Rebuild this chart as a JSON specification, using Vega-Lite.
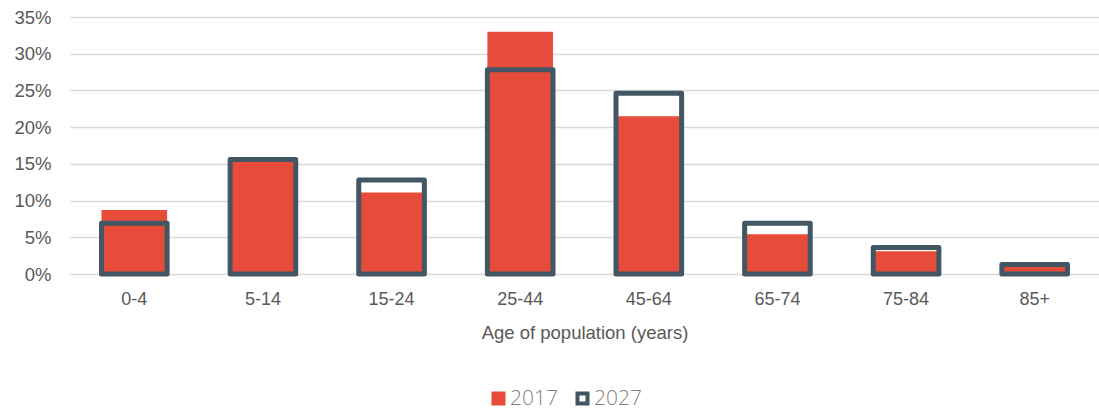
{
  "$schema": "https://vega.github.io/schema/vega-lite/v6.json",
  "width": 1029,
  "height": 257,
  "autosize": {"type": "none"},
  "padding": {"left": 70, "top": 17, "right": 0, "bottom": 138},
  "background": "white",
  "config": {
    "view": {"stroke": null},
    "font": "Liberation Sans",
    "legend": {
      "title": null,
      "orient": "none",
      "direction": "horizontal",
      "padding": 0,
      "symbolType": "square",
      "labelFontSize": 21,
      "labelFont": "Open Sans",
      "labelFontWeight": 300,
      "labelColor": "#7F7F7F",
      "labelOffset": 1,
      "symbolOpacity": 1
    }
  },
  "data": {
    "values": [
      {"age": "0-4", "year": "2017", "value": 8.7},
      {"age": "5-14", "year": "2017", "value": 15.4},
      {"age": "15-24", "year": "2017", "value": 11.1},
      {"age": "25-44", "year": "2017", "value": 33.0},
      {"age": "45-64", "year": "2017", "value": 21.5},
      {"age": "65-74", "year": "2017", "value": 5.4},
      {"age": "75-84", "year": "2017", "value": 3.1},
      {"age": "85+", "year": "2017", "value": 1.0},
      {"age": "0-4", "year": "2027", "value": 6.9},
      {"age": "5-14", "year": "2027", "value": 15.6},
      {"age": "15-24", "year": "2027", "value": 12.8},
      {"age": "25-44", "year": "2027", "value": 27.8},
      {"age": "45-64", "year": "2027", "value": 24.6},
      {"age": "65-74", "year": "2027", "value": 6.9},
      {"age": "75-84", "year": "2027", "value": 3.6},
      {"age": "85+", "year": "2027", "value": 1.3}
    ]
  },
  "encoding": {
    "x": {
      "field": "age",
      "type": "nominal",
      "sort": null,
      "scale": {"paddingInner": 0.49, "paddingOuter": 0.245},
      "axis": {
        "title": "Age of population (years)",
        "labelAngle": 0,
        "ticks": false,
        "domain": false,
        "labelPadding": 16,
        "labelFontSize": 18,
        "labelColor": "#595959",
        "titleFontSize": 18.5,
        "titleFontWeight": "normal",
        "titleColor": "#595959",
        "titlePadding": 15
      }
    },
    "y": {
      "field": "value",
      "type": "quantitative",
      "scale": {"domain": [0, 35]},
      "axis": {
        "title": null,
        "values": [0, 5, 10, 15, 20, 25, 30, 35],
        "labelExpr": "datum.value + '%'",
        "ticks": false,
        "domain": false,
        "labelPadding": 19,
        "labelFontSize": 18.5,
        "labelColor": "#595959",
        "gridColor": "#D9D9D9",
        "gridWidth": 1.5
      }
    }
  },
  "layer": [
    {
      "transform": [{"filter": "datum.year === '2017'"}],
      "mark": {"type": "bar", "opacity": 1},
      "encoding": {
        "fill": {
          "field": "year",
          "type": "nominal",
          "scale": {"domain": ["2017"], "range": ["#E74C3A"]},
          "legend": {"legendX": 418, "legendY": 371, "symbolSize": 196}
        }
      }
    },
    {
      "transform": [{"filter": "datum.year === '2027'"}],
      "mark": {"type": "bar", "filled": false, "strokeWidth": 5, "strokeJoin": "round", "opacity": 1, "strokeOpacity": 1},
      "encoding": {
        "stroke": {
          "field": "year",
          "type": "nominal",
          "scale": {"domain": ["2027"], "range": ["#435663"]},
          "legend": {"legendX": 502, "legendY": 371, "symbolSize": 100, "symbolStrokeWidth": 4, "symbolFillColor": "white"}
        }
      }
    }
  ]
}
